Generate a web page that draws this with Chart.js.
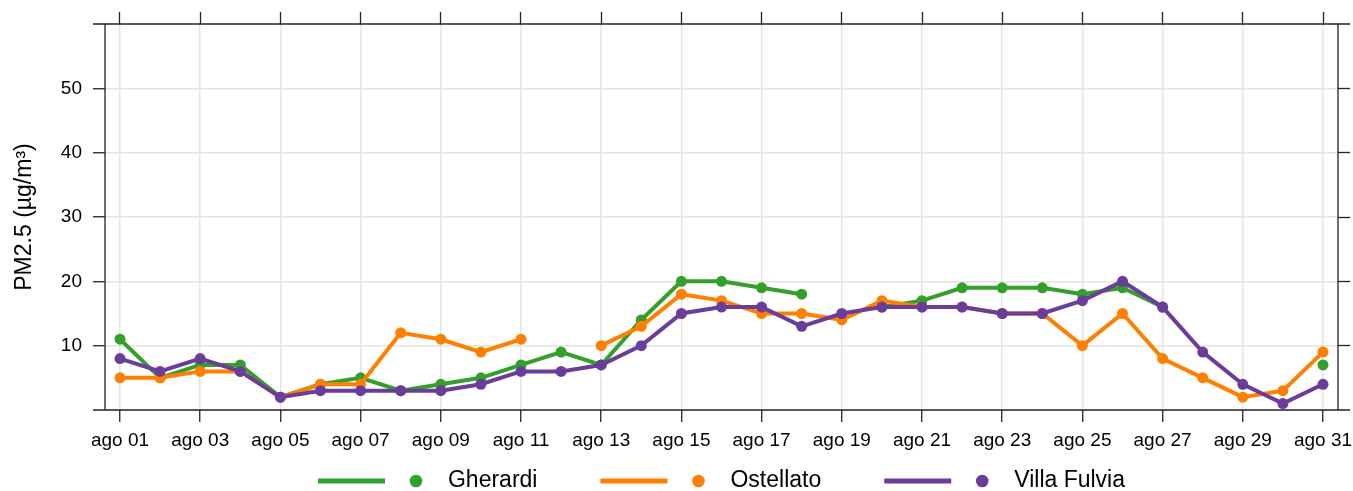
<!DOCTYPE html>
<html>
<head>
<meta charset="utf-8">
<script src="https://cdn.jsdelivr.net/npm/chart.js@4/dist/chart.umd.min.js"></script>
<style>
  html, body { margin: 0; padding: 0; background: #fff; }
  #wrap { position: relative; width: 1353px; height: 491px; }
</style>
</head>
<body>
<div id="wrap"><canvas id="c"></canvas></div>
<script>
const days = [1,2,3,4,5,6,7,8,9,10,11,12,13,14,15,16,17,18,19,20,21,22,23,24,25,26,27,28,29,30,31];
const dayLabels = ['ago 01','ago 02','ago 03','ago 04','ago 05','ago 06','ago 07','ago 08','ago 09','ago 10',
  'ago 11','ago 12','ago 13','ago 14','ago 15','ago 16','ago 17','ago 18','ago 19','ago 20',
  'ago 21','ago 22','ago 23','ago 24','ago 25','ago 26','ago 27','ago 28','ago 29','ago 30','ago 31'];
const tickDays = [1,3,5,7,9,11,13,15,17,19,21,23,25,27,29,31];
const yTicks = [10,20,30,40,50];
const yTitle = 'PM2.5 (µg/m³)';

const gherardi    = [11,5,7,7,2,4,5,3,4,5,7,9,7,14,20,20,19,18,null,16,17,19,19,19,18,19,16,null,null,null,7];
const ostellato   = [5,5,6,6,2,4,4,12,11,9,11,null,10,13,18,17,15,15,14,17,16,16,15,15,10,15,8,5,2,3,9];
const villaFulvia = [8,6,8,6,2,3,3,3,3,4,6,6,7,10,15,16,16,13,15,16,16,16,15,15,17,20,16,9,4,1,4];

const seriesNames  = ['Gherardi','Ostellato','Villa Fulvia'];
const seriesValues = [gherardi, ostellato, villaFulvia];
const seriesColors = ['#33a02c','#ff7f00','#6a3d9a'];

const FONT = "'Liberation Sans', Arial, Helvetica, sans-serif";
Chart.defaults.font.family = FONT;
Chart.defaults.color = '#000';

const TICK = 12;
const AXIS_COLOR = '#222';
const AXIS_W = 1.3;
const GRID_COLOR = '#e4e4e4';

const datasets = seriesNames.map((name, s) => ({
  label: name,
  data: days.map((d, i) => ({x: d, y: seriesValues[s][i]})),
  borderColor: seriesColors[s],
  backgroundColor: seriesColors[s],
  pointBackgroundColor: seriesColors[s],
  pointBorderWidth: 0,
  pointRadius: 5.5,
  pointHoverRadius: 5.5,
  borderWidth: 4,
  spanGaps: false,
  tension: 0,
  order: seriesNames.length - s
}));

function fixX(ticksList) { return (scale) => { scale.ticks = ticksList.map(v => ({value: v})); }; }

const framePlugin = {
  id: 'frame',
  afterDraw(chart) {
    const {ctx, chartArea: {left, right, top, bottom}} = chart;
    ctx.save();
    ctx.strokeStyle = AXIS_COLOR;
    ctx.lineWidth = AXIS_W;
    ctx.beginPath();
    ctx.moveTo(left - TICK, top); ctx.lineTo(right + TICK, top);
    ctx.moveTo(left - TICK, bottom); ctx.lineTo(right + TICK, bottom);
    ctx.moveTo(left, top); ctx.lineTo(left, bottom);
    ctx.moveTo(right, top); ctx.lineTo(right, bottom);
    ctx.stroke();
    ctx.restore();

    // legend
    const lineLen = 67, lineToDot = 31, dotToText = 32, itemGap = 63, y = 481;
    ctx.save();
    ctx.font = '23px ' + FONT;
    const widths = seriesNames.map(n => ctx.measureText(n).width);
    const total = widths.reduce((a, w) => a + lineLen + lineToDot + dotToText + w, 0) + itemGap * (seriesNames.length - 1);
    let x = (left + right) / 2 - total / 2;
    seriesNames.forEach((n, i) => {
      ctx.strokeStyle = seriesColors[i];
      ctx.lineWidth = 5;
      ctx.lineCap = 'butt';
      ctx.beginPath();
      ctx.moveTo(x, y); ctx.lineTo(x + lineLen, y);
      ctx.stroke();
      ctx.fillStyle = seriesColors[i];
      ctx.beginPath();
      ctx.arc(x + lineLen + lineToDot, y, 6.3, 0, Math.PI * 2);
      ctx.fill();
      ctx.fillStyle = '#000';
      ctx.textBaseline = 'middle';
      ctx.textAlign = 'left';
      const tx = x + lineLen + lineToDot + dotToText;
      ctx.fillText(n, tx, y);
      x = tx + widths[i] + itemGap;
    });
    ctx.restore();
  }
};

new Chart(document.getElementById('c'), {
  type: 'line',
  data: { datasets },
  options: {
    responsive: true,
    maintainAspectRatio: false,
    animation: false,
    layout: { padding: 0 },
    plugins: { legend: { display: false }, tooltip: { enabled: false } },
    scales: {
      x: {
        type: 'linear', position: 'bottom',
        min: 0.626, max: 31.374,
        afterBuildTicks: fixX(tickDays),
        afterFit: (s) => { s.height = 81; s.paddingLeft = 0; s.paddingRight = 0; },
        grid: { color: GRID_COLOR, lineWidth: 1.5, drawTicks: true, tickLength: TICK, tickColor: AXIS_COLOR, tickWidth: AXIS_W },
        border: { display: false },
        ticks: {
          padding: 7, maxRotation: 0, autoSkip: false,
          font: { size: 19 }, color: '#000',
          callback: (v) => dayLabels[days.indexOf(v)]
        }
      },
      x2: {
        type: 'linear', position: 'top',
        min: 0.626, max: 31.374,
        afterBuildTicks: fixX(tickDays),
        afterFit: (s) => { s.height = 24; s.paddingLeft = 0; s.paddingRight = 0; },
        grid: { drawOnChartArea: false, drawTicks: true, tickLength: TICK, tickColor: AXIS_COLOR, tickWidth: AXIS_W },
        border: { display: false },
        ticks: { display: false }
      },
      y: {
        type: 'linear', position: 'left',
        min: 0, max: 60,
        afterBuildTicks: fixX(yTicks),
        afterFit: (s) => { s.width = 105; s.paddingTop = 0; s.paddingBottom = 0; },
        grid: { color: GRID_COLOR, lineWidth: 1.5, drawTicks: true, tickLength: TICK, tickColor: AXIS_COLOR, tickWidth: AXIS_W },
        border: { display: false },
        ticks: { padding: 11, font: { size: 19 }, color: '#000' },
        title: { display: true, text: yTitle, font: { size: 23 }, color: '#000', padding: { top: 10.7, bottom: 0 } }
      },
      y2: {
        type: 'linear', position: 'right',
        min: 0, max: 60,
        afterBuildTicks: fixX(yTicks),
        afterFit: (s) => { s.width = 15; s.paddingTop = 0; s.paddingBottom = 0; },
        grid: { drawOnChartArea: false, drawTicks: true, tickLength: TICK, tickColor: AXIS_COLOR, tickWidth: AXIS_W },
        border: { display: false },
        ticks: { display: false }
      }
    }
  },
  plugins: [framePlugin]
});
</script>
</body>
</html>
